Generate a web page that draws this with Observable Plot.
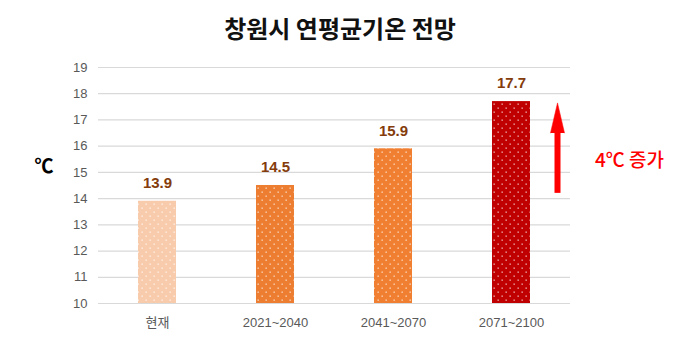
<!DOCTYPE html>
<html>
<head>
<meta charset="utf-8">
<script src="https://cdn.jsdelivr.net/npm/d3@7"></script>
<script src="https://cdn.jsdelivr.net/npm/@observablehq/plot@0.6"></script>
<style>
  html, body { margin: 0; padding: 0; background: #fff; }
  #wrap { width: 680px; height: 353px; position: relative; }
  #title { height: 50px; line-height: 56px; text-align: center; font-family: "Noto Sans CJK KR", sans-serif; font-weight: bold; font-size: 24px; color: #111; }
</style>
</head>
<body>
<div id="wrap">
  <div id="title">창원시 연평균기온 전망</div>
  <div id="chart"></div>
</div>
<script>
const periods = ["현재", "2021~2040", "2041~2070", "2071~2100"];
const temps = [13.9, 14.5, 15.9, 17.7];
const barColors = ["#F8CBAD", "#ED7D31", "#F07F31", "#C00000"];
const yTicks = [10, 11, 12, 13, 14, 15, 16, 17, 18, 19];
const unitLabel = "℃";
const increaseLabel = "4℃ 증가";
const arrowFrom = 14.2;
const arrowShaftTop = 16.8;
const arrowTip = 17.65;
const annotationY = 15.45;

const data = periods.map((p, i) => ({period: p, temp: temps[i], color: barColors[i]}));
const lastPeriod = periods[periods.length - 1];

const font = '"Liberation Sans", "Noto Sans CJK KR", sans-serif';

const plot = Plot.plot({
  width: 680,
  height: 303,
  marginLeft: 98,
  marginRight: 110,
  marginTop: 17,
  marginBottom: 50,
  style: {fontFamily: font, fontSize: "13px", color: "#595959", background: "#fff"},
  x: {domain: periods, paddingInner: 0.68, paddingOuter: 0.34, label: null, tickSize: 0, tickPadding: 14},
  y: {domain: [10, 19], ticks: yTicks, label: null, tickSize: 0, tickPadding: 11, tickFormat: d => d},
  marks: [
    Plot.ruleY(yTicks, {stroke: "#D9D9D9", strokeWidth: 1.2}),
    Plot.barY(data, {x: "period", y1: 10, y2: "temp", fill: d => d.color}),
    Plot.barY(data, {x: "period", y1: 10, y2: "temp", fill: "url(#dotpat)"}),
    Plot.text(data, {x: "period", y: "temp", text: d => d.temp.toFixed(1), dy: -18, fill: "#843C0C", fontWeight: "bold", fontSize: 15}),
    Plot.ruleX([lastPeriod], {x: d => d, y1: arrowFrom, y2: arrowShaftTop, dx: 46, stroke: "#FF0000", strokeWidth: 6}),
    Plot.vector([lastPeriod], {x: d => d, y: arrowTip, dx: 46, length: 30, r: 7, shape: "spike", anchor: "end", rotate: 0, fill: "#FF0000", stroke: "#FF0000", strokeWidth: 0.5}),
    Plot.text([increaseLabel], {x: () => lastPeriod, y: annotationY, text: d => d, dx: 118, fill: "#FF0000", fontSize: 19, fontWeight: 500, fontFamily: '"Noto Sans CJK KR", sans-serif'}),
    Plot.text([unitLabel], {frameAnchor: "left", y: 15.2, text: d => d, dx: -64, fill: "#000", fontSize: 19, fontWeight: "bold", fontFamily: '"Noto Sans CJK KR", sans-serif'})
  ]
});

// dotted pattern overlay
const svg = d3.select(plot);
const defs = svg.insert("defs", ":first-child");
const pat = defs.append("pattern").attr("id", "dotpat").attr("patternUnits", "userSpaceOnUse")
  .attr("width", 8).attr("height", 8);
pat.append("rect").attr("x", 1.5).attr("y", 1.5).attr("width", 1.3).attr("height", 1.3).attr("fill", "#fff").attr("fill-opacity", 0.75);
pat.append("rect").attr("x", 5.5).attr("y", 5.5).attr("width", 1.3).attr("height", 1.3).attr("fill", "#fff").attr("fill-opacity", 0.75);

document.getElementById("chart").appendChild(plot);
</script>
</body>
</html>
